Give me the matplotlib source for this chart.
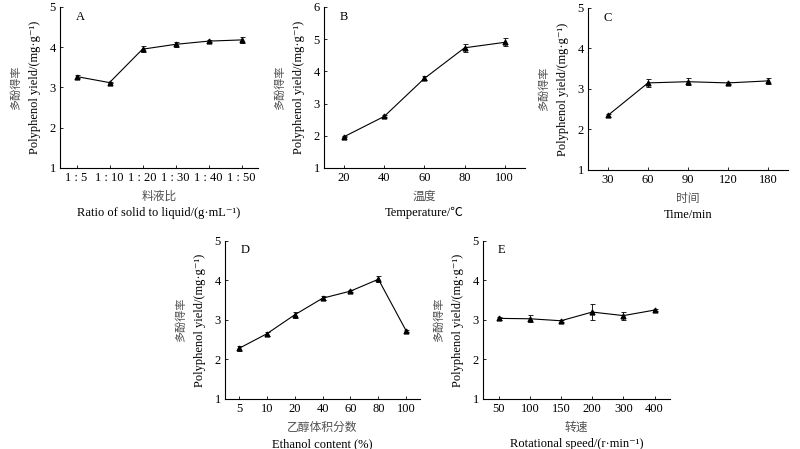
import matplotlib
matplotlib.use("Agg")
import matplotlib.pyplot as plt

plt.rcParams['font.family'] = ['Liberation Serif', 'Noto Sans CJK SC', 'DejaVu Sans']

# ---- data ----
a_labels = ["1 : 5", "1 : 10", "1 : 20", "1 : 30", "1 : 40", "1 : 50"]
a_vals = [3.27, 3.12, 3.95, 4.07, 4.15, 4.18]
a_err = [0.03, 0.02, 0.08, 0.06, 0.03, 0.08]

b_labels = ["20", "40", "60", "80", "100"]
b_vals = [1.97, 2.60, 3.78, 4.73, 4.90]
b_err = [0.02, 0.03, 0.06, 0.12, 0.12]

c_labels = ["30", "60", "90", "120", "180"]
c_vals = [2.35, 3.15, 3.18, 3.15, 3.20]
c_err = [0.03, 0.10, 0.08, 0.03, 0.08]

d_labels = ["5", "10", "20", "40", "60", "80", "100"]
d_vals = [2.28, 2.65, 3.13, 3.55, 3.73, 4.03, 2.72]
d_err = [0.06, 0.05, 0.07, 0.05, 0.03, 0.08, 0.03]

e_labels = ["50", "100", "150", "200", "300", "400"]
e_vals = [3.04, 3.03, 2.98, 3.20, 3.11, 3.25]
e_err = [0.03, 0.09, 0.02, 0.20, 0.10, 0.03]

panels = [
    ("A", a_labels, a_vals, a_err, (1, 5), "料液比", "Ratio of solid to liquid/(g·mL⁻¹)"),
    ("B", b_labels, b_vals, b_err, (1, 6), "温度", "Temperature/℃"),
    ("C", c_labels, c_vals, c_err, (1, 5), "时间", "Time/min"),
    ("D", d_labels, d_vals, d_err, (1, 5), "乙醇体积分数", "Ethanol content (%)"),
    ("E", e_labels, e_vals, e_err, (1, 5), "转速", "Rotational speed/(r·min⁻¹)"),
]

positions = [
    [0.075, 0.626, 0.2475, 0.3586],
    [0.405, 0.626, 0.251, 0.3586],
    [0.735, 0.6214, 0.25, 0.3608],
    [0.28125, 0.1114, 0.244, 0.352],
    [0.60375, 0.1114, 0.234, 0.352],
]

fig = plt.figure(figsize=(8, 4.49), dpi=100)
cn_color = '#505050'
fs = 9

for (letter, labels, vals, err, ylim, cn, en), pos in zip(panels, positions):
    ax = fig.add_axes(pos)
    x = list(range(len(labels)))
    ax.errorbar(x, vals, yerr=err, color='black', lw=0.8, marker='^', ms=3.5,
                elinewidth=0.6, capsize=1.8, capthick=0.6)
    ax.set_xlim(-0.5, len(labels) - 0.5)
    ax.set_ylim(*ylim)
    ax.set_yticks(range(ylim[0], ylim[1] + 1))
    ax.set_xticks(x)
    ax.set_xticklabels(labels)
    for s in ['top', 'right']:
        ax.spines[s].set_visible(False)
    for s in ['left', 'bottom']:
        ax.spines[s].set_linewidth(0.8)
    ax.tick_params(direction='in', length=2.5, width=0.6, labelsize=fs, pad=3)
    ax.text(0.08, 0.94, letter, transform=ax.transAxes, fontsize=fs,
            ha='left', va='center')
    # y labels
    ax.annotate("多酚得率", xy=(0, 0.5), xycoords='axes fraction',
                xytext=(-32, 0), textcoords='offset points', rotation=90,
                ha='center', va='center', fontsize=8, color=cn_color,
                family=['Noto Sans CJK SC'])
    ax.annotate("Polyphenol yield/(mg·g⁻¹)", xy=(0, 0.5), xycoords='axes fraction',
                xytext=(-18, 0), textcoords='offset points', rotation=90,
                ha='center', va='center', fontsize=fs)
    # x labels
    ax.annotate(cn, xy=(0.5, 0), xycoords='axes fraction',
                xytext=(0, -20.5), textcoords='offset points',
                ha='center', va='center', fontsize=8.5, color=cn_color,
                family=['Noto Sans CJK SC'])
    ax.annotate(en, xy=(0.5, 0), xycoords='axes fraction',
                xytext=(0, -32.5), textcoords='offset points',
                ha='center', va='center', fontsize=fs)

fig.savefig("out.png", dpi=100)
